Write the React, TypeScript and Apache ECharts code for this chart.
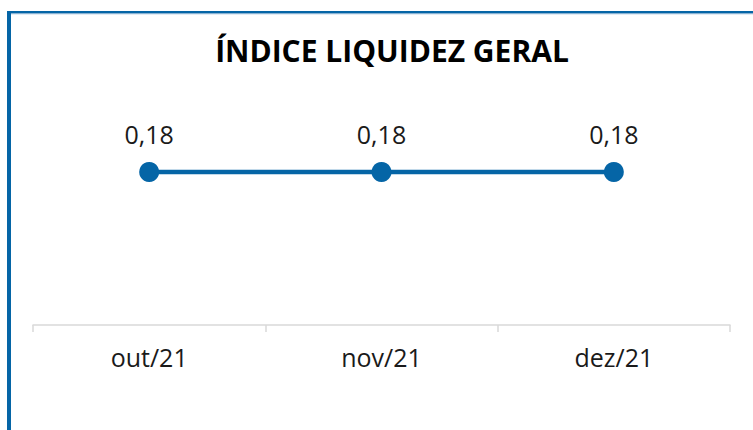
import React, { useEffect, useRef } from "react";
import * as echarts from "echarts";

const categories = ["out/21", "nov/21", "dez/21"];
const values = [0.18, 0.18, 0.18];
const titleText = "ÍNDICE LIQUIDEZ GERAL";

export default function App() {
  const ref = useRef<HTMLDivElement>(null);
  useEffect(() => {
    if (!ref.current) return;
    const chart = echarts.init(ref.current, null, { renderer: "svg" });
    const blue = "#0565a6";
    chart.setOption({
      animation: false,
      backgroundColor: "#ffffff",
      title: {
        text: titleText,
        left: 387,
        textAlign: "center",
        top: 30,
        textStyle: { fontFamily: "Open Sans", fontWeight: "bold", fontSize: 30, color: "#000000" },
      },
      graphic: [
        { type: "rect", shape: { x: 7, y: 11, width: 4, height: 430 }, style: { fill: blue } },
        { type: "rect", shape: { x: 7, y: 11, width: 760, height: 2.5 }, style: { fill: blue } },
        { type: "rect", shape: { x: 11, y: 13.5, width: 760, height: 0.8 }, style: { fill: "#8fb4d4" } },
      ],
      grid: { left: 33, right: 23, top: 155, bottom: 105 },
      xAxis: {
        type: "category",
        data: categories,
        boundaryGap: true,
        axisLine: { lineStyle: { color: "#d9d9d9", width: 1.5 } },
        axisTick: { show: true, length: 7, lineStyle: { color: "#d9d9d9", width: 1.5 } },
        axisLabel: { fontFamily: "Open Sans", fontSize: 25, color: "#1a1a1a", margin: 19 },
      },
      yAxis: {
        type: "value",
        min: 0,
        max: 0.2,
        show: false,
        splitLine: { show: false },
      },
      series: [
        {
          type: "line",
          data: values,
          symbol: "circle",
          symbolSize: 20,
          itemStyle: { color: blue },
          lineStyle: { color: blue, width: 4.5 },
          label: {
            show: true,
            position: "top",
            distance: 16,
            fontFamily: "Open Sans",
            fontSize: 25,
            color: "#1a1a1a",
            formatter: (p: any) => p.value.toFixed(2).replace(".", ","),
          },
        },
      ],
    });
    return () => chart.dispose();
  }, []);
  return (
    <div style={{ position: "absolute", left: 0, top: 0, width: 753, height: 430 }}>
      <div ref={ref} style={{ width: 753, height: 430 }} />
    </div>
  );
}
